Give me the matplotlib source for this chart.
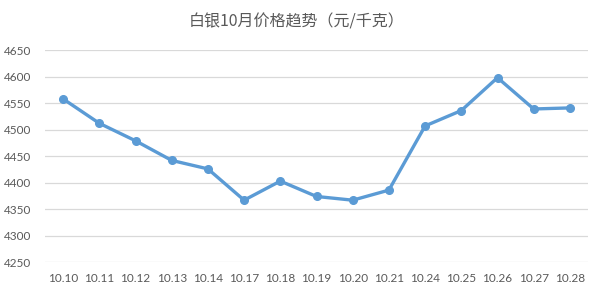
import matplotlib
matplotlib.use("Agg")
import matplotlib.pyplot as plt

dates = ["10.10", "10.11", "10.12", "10.13", "10.14", "10.17", "10.18", "10.19",
         "10.20", "10.21", "10.24", "10.25", "10.26", "10.27", "10.28"]
prices = [4558, 4512, 4479, 4442, 4426, 4367, 4403, 4374,
          4367, 4386, 4507, 4536, 4598, 4539, 4541]
yticks = [4250, 4300, 4350, 4400, 4450, 4500, 4550, 4600, 4650]

plt.rcParams['font.family'] = ['Lato', 'Noto Sans CJK SC', 'DejaVu Sans']

fig = plt.figure(figsize=(6, 2.93), dpi=100)
ax = fig.add_axes([0.075, 0.105, 0.905, 0.724])

x = list(range(len(dates)))
ax.plot(x, prices, color="#5B9BD5", linewidth=2.4, marker="o", markersize=5.5,
        solid_capstyle="round", solid_joinstyle="round", zorder=3)

ax.set_xlim(-0.5, len(dates) - 0.5)
ax.set_ylim(4250, 4650)
ax.set_yticks(yticks)
ax.set_xticks(x)
ax.set_xticklabels(dates)

ax.grid(axis="y", color="#D9D9D9", linewidth=0.9)
ax.set_axisbelow(True)
for s in ax.spines.values():
    s.set_visible(False)
ax.tick_params(axis="both", length=0, labelsize=8.5, colors="#595959")
ax.tick_params(axis="x", pad=8)
ax.tick_params(axis="y", pad=10)

fig.text(0.494, 0.925, "白银10月价格趋势（元/千克）", ha="center", va="center",
         fontsize=11.5, color="#595959", family=["Noto Sans CJK SC", "DejaVu Sans"])

fig.savefig("out.png", dpi=100, facecolor="white")
